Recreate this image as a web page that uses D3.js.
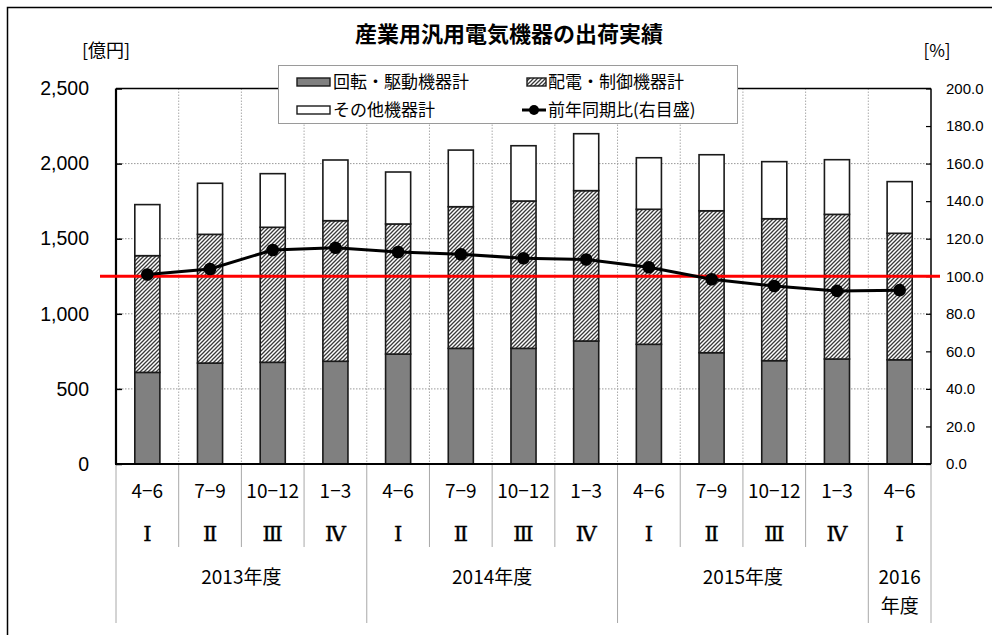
<!DOCTYPE html>
<html><head><meta charset="utf-8">
<script src="https://cdn.jsdelivr.net/npm/d3@7"></script>
<style>
html,body{margin:0;padding:0;background:#fff;}
svg{display:block;}
</style>
</head><body>
<svg id="c" width="992" height="635"></svg>
<script>
// ---- data ----
const quarters = ["4−6","7−9","10−12","1−3","4−6","7−9","10−12","1−3","4−6","7−9","10−12","1−3","4−6"];
const romans = ["Ⅰ","Ⅱ","Ⅲ","Ⅳ","Ⅰ","Ⅱ","Ⅲ","Ⅳ","Ⅰ","Ⅱ","Ⅲ","Ⅳ","Ⅰ"];
const years = [
  {label:["2013年度"], start:0, n:4},
  {label:["2014年度"], start:4, n:4},
  {label:["2015年度"], start:8, n:4},
  {label:["2016","年度"], start:12, n:1}
];
const rotating = [610, 672, 677, 684, 732, 770, 770, 819, 797, 741, 688, 699, 694];
const distribution = [777, 857, 899, 936, 866, 943, 981, 1001, 899, 945, 945, 963, 842];
const others = [340, 340, 357, 404, 346, 377, 368, 379, 343, 373, 380, 364, 344];
const yoyRatio = [100.9, 103.9, 114.0, 115.2, 112.9, 111.7, 109.6, 108.9, 104.8, 98.4, 94.8, 92.2, 92.6];
const leftTicks = [0, 500, 1000, 1500, 2000, 2500];
const rightTicks = [0, 20, 40, 60, 80, 100, 120, 140, 160, 180, 200];
const seriesNames = ["回転・駆動機器計", "配電・制御機器計", "その他機器計", "前年同期比(右目盛)"];
const title = "産業用汎用電気機器の出荷実績";

// ---- layout ----
const L = 116, R = 931, T = 88.5, B = 464;
const idx = quarters.map((d,i)=>i);
const svg = d3.select("#c");
const jp = "'Noto Sans CJK JP', 'Noto Sans', sans-serif";
const num = "'Liberation Sans', Arial, sans-serif";

const x = d3.scaleBand().domain(idx).range([L, R]).padding(0);
const y = d3.scaleLinear().domain([0, 2500]).range([B, T]);
const y2 = d3.scaleLinear().domain([0, 200]).range([B, T]);
const bw = x.bandwidth() * 0.4;

// pattern
const defs = svg.append("defs");
const pat = defs.append("pattern").attr("id","hatch").attr("patternUnits","userSpaceOnUse")
  .attr("width",4).attr("height",4);
pat.append("rect").attr("width",4).attr("height",4).attr("fill","#fff");
pat.append("path").attr("d","M-1,1 l2,-2 M0,4 l4,-4 M3,5 l2,-2")
  .attr("stroke","#3a3a3a").attr("stroke-width",1.3);

// outer frame (left & top only)
svg.append("path").attr("d","M7.5,635 L7.5,7.5 L992,7.5").attr("fill","none")
  .attr("stroke","#000").attr("stroke-width",1.5);

// title
svg.append("text").attr("x",509).attr("y",42).attr("text-anchor","middle")
  .attr("font-family",jp).attr("font-size",22).attr("font-weight","bold").text(title);

// units
svg.append("text").attr("x",106).attr("y",57).attr("text-anchor","middle")
  .attr("font-family",jp).attr("font-size",18).text("[億円]");
svg.append("text").attr("x",937).attr("y",57).attr("text-anchor","middle")
  .attr("font-family",jp).attr("font-size",17).text("[%]");

// gridlines horizontal
svg.append("g").selectAll("line").data(leftTicks.filter(t=>t>0 && t<2500)).join("line")
  .attr("x1",L).attr("x2",R).attr("y1",d=>y(d)).attr("y2",d=>y(d))
  .attr("stroke","#999").attr("stroke-width",1).attr("stroke-dasharray","1.5,1.5");

// vertical boundaries
const bounds = d3.range(1, quarters.length).map(i => x(i));
svg.append("g").selectAll("line").data(bounds).join("line")
  .attr("x1",d=>d).attr("x2",d=>d).attr("y1",T).attr("y2",B)
  .attr("stroke","#aaa").attr("stroke-width",1).attr("stroke-dasharray","1.5,1.5");

// category separators below axis
const yearBounds = new Set();
years.forEach(yy => { yearBounds.add(yy.start); yearBounds.add(yy.start+yy.n); });
const allB = d3.range(0, quarters.length+1);
svg.append("g").selectAll("line").data(allB).join("line")
  .attr("x1",i=> i===quarters.length ? R : x(i)).attr("x2",i=> i===quarters.length ? R : x(i))
  .attr("y1",B).attr("y2",i=> yearBounds.has(i) ? 623 : 547)
  .attr("stroke","#a8a8a8").attr("stroke-width",1);

// stacked bars
const stackData = idx.map(i => ({i, a: rotating[i], b: distribution[i], c: others[i]}));
const stack = d3.stack().keys(["a","b","c"])(stackData);
const fills = {a:"#808080", b:"url(#hatch)", c:"#fff"};
svg.append("g").selectAll("g").data(stack).join("g")
  .attr("fill", s => fills[s.key])
  .selectAll("rect").data(s=>s).join("rect")
  .attr("x", d => x(d.data.i) + (x.bandwidth()-bw)/2)
  .attr("width", bw)
  .attr("y", d => y(d[1]))
  .attr("height", d => y(d[0]) - y(d[1]))
  .attr("stroke","#1a1a1a").attr("stroke-width",1.6);

// plot border
svg.append("line").attr("x1",L).attr("x2",R).attr("y1",T).attr("y2",T).attr("stroke","#000").attr("stroke-width",1.5);
svg.append("line").attr("x1",R).attr("x2",R).attr("y1",T).attr("y2",B).attr("stroke","#000").attr("stroke-width",1.5);
svg.append("line").attr("x1",L).attr("x2",L).attr("y1",T).attr("y2",B).attr("stroke","#000").attr("stroke-width",2.2);
svg.append("line").attr("x1",L-1).attr("x2",R).attr("y1",B).attr("y2",B).attr("stroke","#000").attr("stroke-width",2);

// left axis
const ga = svg.append("g").attr("transform",`translate(${L},0)`)
  .call(d3.axisLeft(y).tickValues(leftTicks).tickSize(-6).tickPadding(27).tickFormat(d3.format(",")));
ga.select(".domain").remove();
ga.selectAll("line").attr("stroke","#000").attr("stroke-width",1.5);
ga.selectAll("text").attr("font-family",num).attr("font-size",19.5).attr("fill","#000");

// right axis
const gr = svg.append("g").attr("transform",`translate(${R},0)`)
  .call(d3.axisRight(y2).tickValues(rightTicks).tickSize(-5).tickPadding(15).tickFormat(d3.format(".1f")));
gr.select(".domain").remove();
gr.selectAll("line").attr("stroke","#000").attr("stroke-width",1.2);
gr.selectAll("text").attr("font-family",num).attr("font-size",15).attr("fill","#000");

// red 100% line
svg.append("line").attr("x1",100).attr("x2",940).attr("y1",y2(100)).attr("y2",y2(100))
  .attr("stroke","#ff0000").attr("stroke-width",3.2);

// ratio line
const cx = i => x(i) + x.bandwidth()/2;
svg.append("path").datum(idx)
  .attr("d", d3.line().x(i=>cx(i)).y(i=>y2(yoyRatio[i])))
  .attr("fill","none").attr("stroke","#000").attr("stroke-width",3);
svg.append("g").selectAll("circle").data(idx).join("circle")
  .attr("cx",i=>cx(i)).attr("cy",i=>y2(yoyRatio[i])).attr("r",6.3).attr("fill","#000");

// category labels
svg.append("g").selectAll("text").data(idx).join("text")
  .attr("x",i=>cx(i)).attr("y",498).attr("text-anchor","middle")
  .attr("font-family",jp).attr("font-size",19).text(i=>quarters[i]);
svg.append("g").selectAll("text").data(idx).join("text")
  .attr("x",i=>cx(i)).attr("y",541).attr("text-anchor","middle")
  .attr("font-family","'DejaVu Serif', 'Liberation Serif', serif").attr("font-size",21)
  .attr("stroke","#000").attr("stroke-width",0.4).text(i=>romans[i]);
const yg = svg.append("g");
years.forEach(yy => {
  const xc = (x(yy.start) + (yy.start+yy.n >= quarters.length ? R : x(yy.start+yy.n)))/2;
  yy.label.forEach((t,k) => {
    yg.append("text").attr("x",xc).attr("y",584 + k*29).attr("text-anchor","middle")
      .attr("font-family",jp).attr("font-size",19).text(t);
  });
});

// legend
const lg = svg.append("g");
lg.append("rect").attr("x",278.5).attr("y",65.5).attr("width",459).attr("height",58)
  .attr("fill","#fff").attr("stroke","#9a9a9a").attr("stroke-width",1);
const legendItems = [
  {name:seriesNames[0], type:"rect", fill:"#808080", sx:297, sw:33, tx:333, y:82},
  {name:seriesNames[1], type:"rect", fill:"url(#hatch)", sx:527, sw:19, tx:548, y:82},
  {name:seriesNames[2], type:"rect", fill:"#fff", sx:297, sw:33, tx:333, y:110},
  {name:seriesNames[3], type:"line", sx:522, sw:24, tx:548, y:110}
];
legendItems.forEach(it => {
  if (it.type === "rect") {
    lg.append("rect").attr("x",it.sx).attr("y",it.y-4).attr("width",it.sw).attr("height",8)
      .attr("fill",it.fill).attr("stroke","#1a1a1a").attr("stroke-width",1.4);
  } else {
    lg.append("line").attr("x1",it.sx).attr("x2",it.sx+it.sw).attr("y1",it.y).attr("y2",it.y)
      .attr("stroke","#000").attr("stroke-width",3);
    lg.append("circle").attr("cx",it.sx+it.sw/2).attr("cy",it.y).attr("r",5).attr("fill","#000");
  }
  lg.append("text").attr("x",it.tx).attr("y",it.y+6).attr("font-family",jp).attr("font-size",17).text(it.name);
});
</script>
</body></html>
